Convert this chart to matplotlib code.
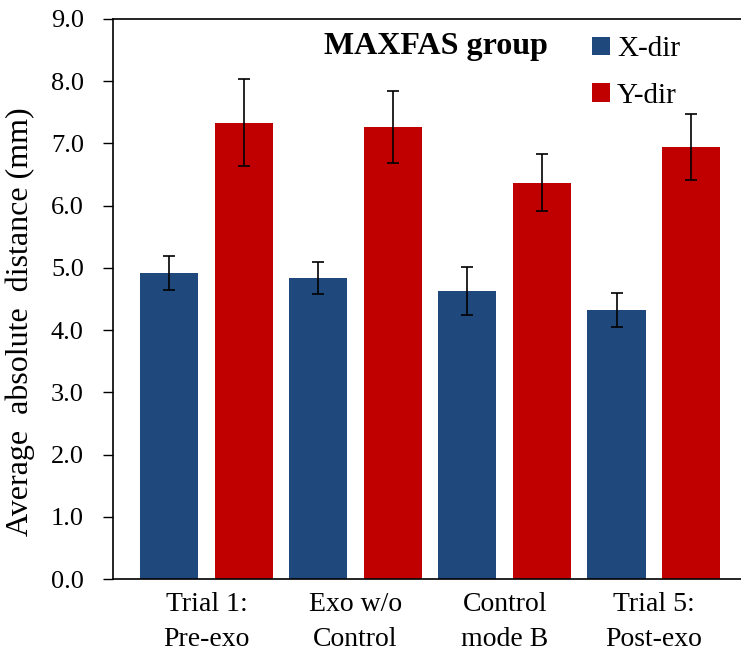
import numpy as np
import matplotlib.pyplot as plt

plt.rcParams['font.family'] = ['Liberation Serif', 'DejaVu Serif']

conditions = ['Trial 1:\nPre-exo', 'Exo w/o\nControl', 'Control\nmode B', 'Trial 5:\nPost-exo']
x_dir = [4.92, 4.84, 4.63, 4.32]
x_err = [0.27, 0.26, 0.38, 0.27]
y_dir = [7.33, 7.27, 6.37, 6.95]
y_err = [0.70, 0.58, 0.46, 0.53]

fig = plt.figure(figsize=(7.41, 6.55), dpi=100)
ax = fig.add_axes([0.1525, 0.116, 0.8475, 0.855])

pos = np.arange(len(conditions))
w = 0.39
err_style = dict(ecolor='black', elinewidth=1.2, capsize=4, capthick=1.2)
ax.bar(pos - 0.25, x_dir, w, yerr=x_err, color='#1f497d', label='X-dir', error_kw=err_style)
ax.bar(pos + 0.25, y_dir, w, yerr=y_err, color='#c00000', label='Y-dir', error_kw=err_style)

ax.set_xlim(-0.627, 3.585)
ax.set_ylim(0, 9)
ticks = np.arange(0, 9.1, 1.0)
ax.set_yticks(ticks)
ax.set_yticklabels([f'{v:.1f}' for v in ticks], fontsize=19)
ax.set_xticks(pos)
ax.set_xticklabels(conditions, fontsize=20, linespacing=1.55)
ax.tick_params(axis='x', length=0, pad=9)
ax.tick_params(axis='y', length=7, width=1, direction='out', pad=14)
ax.spines['right'].set_visible(False)
for s in ['left', 'bottom', 'top']:
    ax.spines[s].set_linewidth(1.2)

ax.set_ylabel('Average  absolute  distance (mm)', fontsize=23)
ax.yaxis.set_label_coords(-0.124, 0.459)
ax.text(0.515, 0.95, 'MAXFAS group', transform=ax.transAxes, ha='center', va='center',
        fontsize=23, fontweight='bold')
ax.legend(loc='upper left', bbox_to_anchor=(0.735, 1.0), frameon=False, fontsize=21,
          handlelength=0.6, handleheight=0.6, handletextpad=0.25, labelspacing=0.7,
          borderaxespad=0.2)

fig.savefig('out.png', dpi=100)
